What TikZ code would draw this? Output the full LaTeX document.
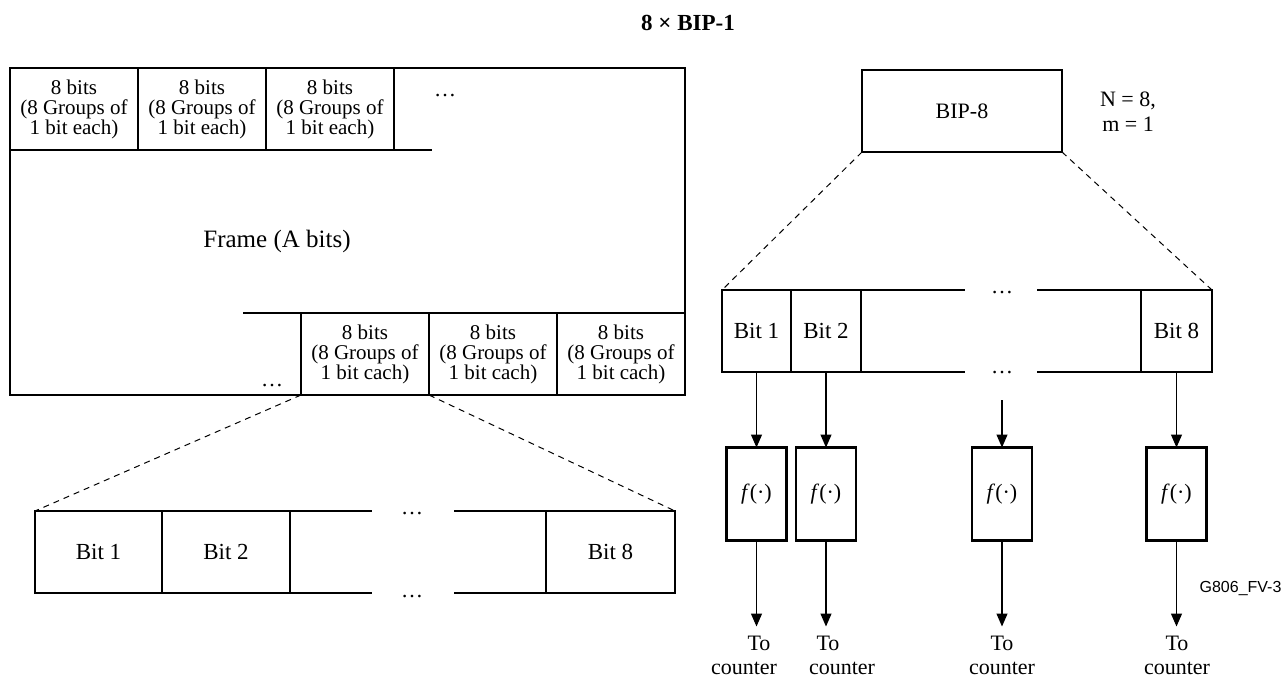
\documentclass[tikz,border=0pt]{standalone}
\usepackage{fontspec}
\setmainfont{Liberation Serif}
\newfontfamily\figlabelfont{Liberation Sans}
\usetikzlibrary{arrows.meta,positioning}

\begin{document}
\begin{tikzpicture}[
  x=1pt, y=-1pt,
  >={Triangle[length=13pt,width=11pt]},
  font=\fontsize{22}{25}\selectfont,
  boxline/.style={line width=2.6pt},
  cell/.style={draw, boxline, outer sep=0pt, inner sep=0pt, align=center,
    minimum width=128pt, minimum height=82pt, font=\fontsize{21}{20}\selectfont},
  bitcell/.style={draw, boxline, outer sep=0pt, minimum height=82pt,
    font=\fontsize{23}{25}\selectfont},
  fnbox/.style={draw, boxline, outer sep=0pt, minimum width=60pt, minimum height=93pt},
  zoomline/.style={dash pattern=on 6pt off 5pt, line width=1pt},
  flow/.style={->, line width=1.2pt}
]
\useasboundingbox (0,0) rectangle (1286,681);

% title
\node[font=\fontsize{23}{25}\selectfont\bfseries] (title) at (688,23) {8 × BIP-1};

% frame with its first and last groups
\node[draw, boxline, outer sep=0pt, minimum width=675pt, minimum height=327pt,
  anchor=north west] (frame) at (10,68) {};
\node[font=\fontsize{25}{27}\selectfont] (framelbl) at (277,241) {Frame (A bits)};

\node[cell, anchor=north west] (t1) at (10,68) {8 bits\\(8 Groups of\\1 bit each)};
\node[cell, right=0pt of t1] (t2) {8 bits\\(8 Groups of\\1 bit each)};
\node[cell, right=0pt of t2] (t3) {8 bits\\(8 Groups of\\1 bit each)};
\draw[boxline] (t3.south east) -- ++(38,0);
\node (tdots) at (445,96) {\dots};

\node[cell, anchor=south east] (b3) at (685,395) {8 bits\\(8 Groups of\\1 bit cach)};
\node[cell, left=0pt of b3] (b2) {8 bits\\(8 Groups of\\1 bit cach)};
\node[cell, left=0pt of b2] (b1) {8 bits\\(8 Groups of\\1 bit cach)};
\draw[boxline] (b1.north west) -- ++(-58,0);
\node (bdots) at (272,386) {\dots};

% one group, bit by bit
\node[bitcell, minimum width=127pt, anchor=north west] (lb1) at (35,511) {Bit 1};
\node[bitcell, minimum width=128pt, right=0pt of lb1] (lb2) {Bit 2};
\node[bitcell, minimum width=129pt, anchor=north east] (lb8) at (675,511) {Bit 8};
\draw[boxline] (lb2.north east) -- ++(82,0);
\draw[boxline] (lb2.south east) -- ++(82,0);
\draw[boxline] (lb8.north west) -- ++(-92,0);
\draw[boxline] (lb8.south west) -- ++(-92,0);
\node (ldots1) at (412,514) {\dots};
\node (ldots2) at (412,597) {\dots};

\draw[zoomline] (b1.south west) -- (lb1.north west);
\draw[zoomline] (b1.south east) -- (lb8.north east);

% BIP-8 and its bits
\node[draw, boxline, outer sep=0pt, minimum width=200pt, minimum height=82pt,
  anchor=north west] (bip) at (862,70) {BIP-8};
\node[align=center] (nm) at (1128,112) {N = 8,\\m = 1};

\node[bitcell, minimum width=69pt, anchor=north west] (rb1) at (722,290) {Bit 1};
\node[bitcell, minimum width=70pt, right=0pt of rb1] (rb2) {Bit 2};
\node[bitcell, minimum width=71pt, anchor=north east] (rb8) at (1212,290) {Bit 8};
\draw[boxline] (rb2.north east) -- ++(104,0);
\draw[boxline] (rb8.north west) -- ++(-104,0);
\draw[boxline] (rb2.south east) -- ++(104,0);
\draw[boxline] (rb8.south west) -- ++(-104,0);
\node (rdots1) at (1002,293) {\dots};
\node (rdots2) at (1002,373) {\dots};

\draw[zoomline] (bip.south west) -- (rb1.north west);
\draw[zoomline] (bip.south east) -- (rb8.north east);

% parity functions
\node[fnbox] (f1) at (756.5,494) {\textit{f}(·)};
\node[fnbox] (f2) at (826,494) {\textit{f}(·)};
\node[fnbox] (f3) at (1002,494) {\textit{f}(·)};
\node[fnbox] (f4) at (1176.5,494) {\textit{f}(·)};
\coordinate (fin3) at (1002,400);

\draw[flow] (rb1.south) -- (f1.north);
\draw[flow] (rb2.south) -- (f2.north);
\draw[flow] (fin3) -- (f3.north);
\draw[flow] (rb8.south) -- (f4.north);

\foreach \f in {1,2,3,4}
  \draw[flow] (f\f.south) -- ++(0,86) coordinate (out\f);

\node (to1) at (759,643) {To};
\node (ct1) at (744,668) {counter};
\node (to2) at (828,643) {To};
\node (ct2) at (842,668) {counter};
\node (to3) at (1002,643) {To};
\node (ct3) at (1002,668) {counter};
\node (to4) at (1177,643) {To};
\node (ct4) at (1177,668) {counter};

\node[font=\figlabelfont\fontsize{16}{18}\selectfont, anchor=east] (figid) at (1285,588) {G806\_FV-3};
\end{tikzpicture}
\end{document}
